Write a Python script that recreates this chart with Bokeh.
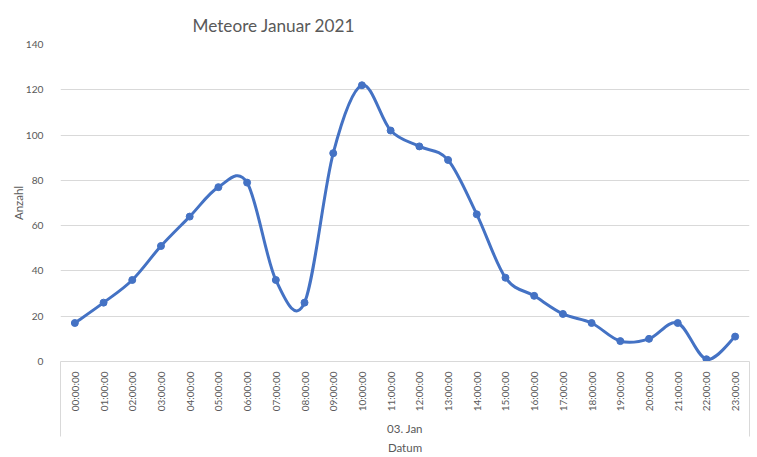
import math
from bokeh.plotting import figure
from bokeh.models import Range1d, LinearAxis, FixedTicker
from bokeh.embed import file_html
from bokeh.resources import INLINE

# ---- data ----
hour_labels = ["00:00:00", "01:00:00", "02:00:00", "03:00:00", "04:00:00", "05:00:00",
               "06:00:00", "07:00:00", "08:00:00", "09:00:00", "10:00:00", "11:00:00",
               "12:00:00", "13:00:00", "14:00:00", "15:00:00", "16:00:00", "17:00:00",
               "18:00:00", "19:00:00", "20:00:00", "21:00:00", "22:00:00", "23:00:00"]
counts = [17, 26, 36, 51, 64, 77, 79, 36, 26, 92, 122, 102,
          95, 89, 65, 37, 29, 21, 17, 9, 10, 17, 1, 11]
y_ticks = [0, 20, 40, 60, 80, 100, 120, 140]
group_label = "03. Jan"
x_title = "Datum"
y_title = "Anzahl"
chart_title = "Meteore Januar 2021"

TEXT = "#595959"
GRID = "#d9d9d9"
LINE = "#4472C4"
FONT = "Lato"

xs = list(range(len(counts)))
n = len(counts)

# smoothed (Catmull-Rom -> cubic Bezier) segments, control points derived from data
x0, y0, x1, y1, cx0, cy0, cx1, cy1 = [], [], [], [], [], [], [], []
for i in range(n - 1):
    pm = max(i - 1, 0)
    pp = min(i + 2, n - 1)
    x0.append(xs[i]); y0.append(counts[i])
    x1.append(xs[i + 1]); y1.append(counts[i + 1])
    cx0.append(xs[i] + (xs[i + 1] - xs[pm]) / 6)
    cy0.append(counts[i] + (counts[i + 1] - counts[pm]) / 6)
    cx1.append(xs[i + 1] - (xs[pp] - xs[i]) / 6)
    cy1.append(counts[i + 1] - (counts[pp] - counts[i]) / 6)

p = figure(width=757, height=457, output_backend="svg", toolbar_location=None,
           x_range=Range1d(-0.5, len(counts) - 0.5), y_range=Range1d(0, 140),
           min_border_left=60, min_border_right=8, min_border_top=44, min_border_bottom=96,
           x_axis_type=None)
p.outline_line_color = None
p.background_fill_color = "white"
p.border_fill_color = "white"

p.title.text = chart_title
p.title.align = "left"
p.title.offset = 132
p.title.text_font = FONT
p.title.text_font_size = "17.2px"
p.title.text_font_style = "normal"
p.title.text_color = TEXT
p.title.standoff = 18

# y axis
p.yaxis.ticker = FixedTicker(ticks=y_ticks)
p.yaxis.axis_line_color = None
p.yaxis.major_tick_line_color = None
p.yaxis.minor_tick_line_color = None
p.yaxis.major_label_standoff = 11
p.yaxis.major_label_text_font = FONT
p.yaxis.major_label_text_font_size = "10.2px"
p.yaxis.major_label_text_color = TEXT
p.yaxis.axis_label = y_title
p.yaxis.axis_label_text_font = FONT
p.yaxis.axis_label_text_font_size = "11.5px"
p.yaxis.axis_label_text_font_style = "normal"
p.yaxis.axis_label_text_color = TEXT
p.yaxis.axis_label_standoff = -2

p.ygrid.ticker = FixedTicker(ticks=y_ticks)
p.ygrid.grid_line_color = GRID
p.xgrid.visible = False

# x axis with hour labels, box edges drawn as long minor ticks
xaxis = LinearAxis(
    ticker=FixedTicker(ticks=xs, minor_ticks=[-0.5, len(counts) - 0.5]),
    major_label_overrides={i: hour_labels[i] for i in xs},
    major_label_orientation=math.pi / 2,
    major_tick_out=0, major_tick_in=0, major_tick_line_color=None,
    minor_tick_out=75, minor_tick_in=0, minor_tick_line_color=GRID,
    axis_line_color=GRID,
    major_label_standoff=-65,
    major_label_text_font=FONT, major_label_text_font_size="10px",
    major_label_text_color=TEXT,
    axis_label=group_label, axis_label_standoff=8,
    axis_label_text_font=FONT, axis_label_text_font_size="11.5px",
    axis_label_text_font_style="normal", axis_label_text_color=TEXT,
)
p.add_layout(xaxis, "below")

title_axis = LinearAxis(
    ticker=FixedTicker(ticks=[]),
    major_tick_out=0, major_tick_in=0, major_tick_line_color=None,
    minor_tick_out=0, minor_tick_in=0, minor_tick_line_color=None,
    axis_line_color=None, major_label_standoff=0,
    axis_label=x_title, axis_label_standoff=2,
    axis_label_text_font=FONT, axis_label_text_font_size="11.5px",
    axis_label_text_font_style="normal", axis_label_text_color=TEXT,
)
p.add_layout(title_axis, "below")

p.bezier(x0=x0, y0=y0, x1=x1, y1=y1, cx0=cx0, cy0=cy0, cx1=cx1, cy1=cy1,
         line_color=LINE, line_width=3, line_cap="round")
p.scatter(xs, counts, size=7, fill_color=LINE, line_color=LINE)

open("out.html", "w").write(file_html(p, INLINE))
